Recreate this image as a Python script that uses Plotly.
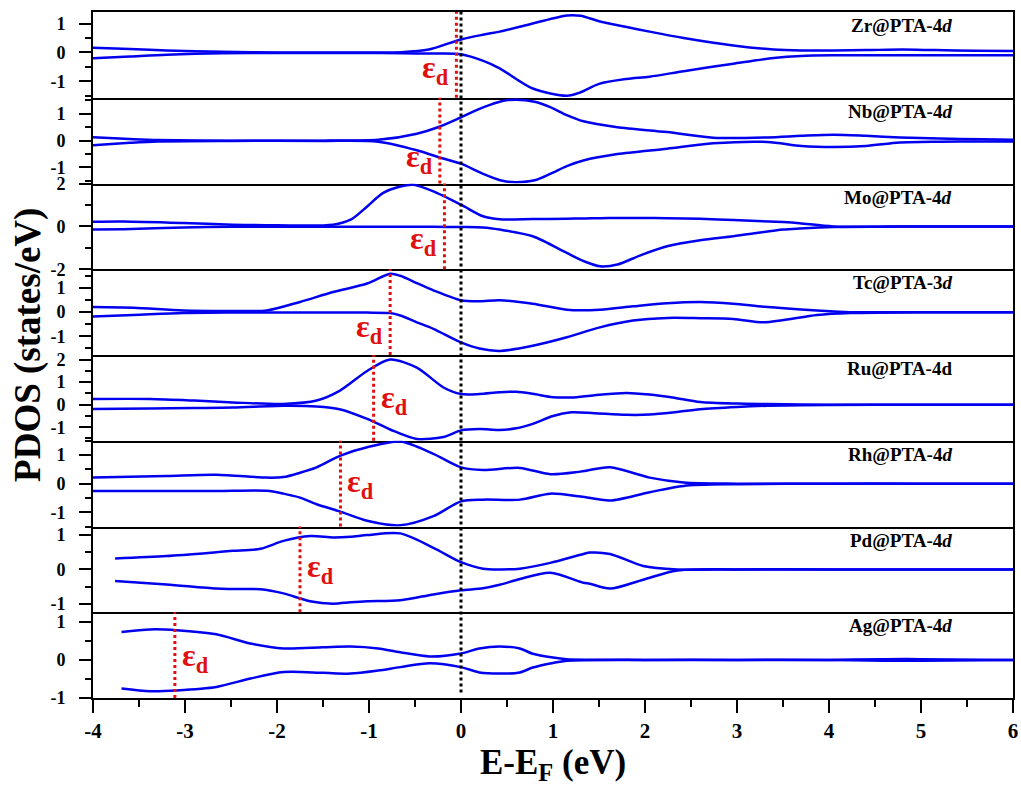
import plotly.graph_objects as go

# ---------------- data ----------------
labels = ["Zr@PTA-4<i>d</i>", "Nb@PTA-4<i>d</i>", "Mo@PTA-4<i>d</i>", "Tc@PTA-3<i>d</i>",
          "Ru@PTA-4d", "Rh@PTA-4<i>d</i>", "Pd@PTA-4<i>d</i>", "Ag@PTA-4<i>d</i>"]

# d-band centres (eV)
eps_d = [-0.05, -0.23, -0.18, -0.77, -0.95, -1.31, -1.75, -3.11]

zr_x = [-4, -3.6, -3.2, -2.6, -2.0, -1.0, -0.65, -0.35, 0.0, 0.25, 0.42, 0.78, 1.15, 1.3, 1.5, 1.8, 2.05, 2.42, 2.96, 3.4, 3.7, 4.05, 4.4, 4.8, 5.15, 5.6, 6.0]
zr_up = [0.16, 0.12, 0.07, 0.02, 0.0, 0.0, 0.01, 0.1, 0.45, 0.62, 0.72, 1.0, 1.28, 1.27, 1.08, 0.88, 0.72, 0.5, 0.24, 0.1, 0.07, 0.07, 0.08, 0.1, 0.08, 0.06, 0.05]
zr_dn = [-0.2, -0.14, -0.08, -0.03, -0.02, -0.02, -0.03, -0.04, -0.06, -0.3, -0.55, -1.25, -1.5, -1.38, -1.09, -0.92, -0.84, -0.65, -0.39, -0.19, -0.12, -0.1, -0.1, -0.1, -0.1, -0.1, -0.1]

nb_x = [-4, -3.6, -3.3, -2.5, -1.5, -0.9, -0.48, -0.25, 0, 0.24, 0.45, 0.6, 0.8, 0.97, 1.15, 1.33, 1.7, 2.24, 2.74, 3.33, 3.7, 4.05, 4.4, 4.77, 5.2, 5.67, 6.0]
nb_up = [0.13, 0.06, 0.02, 0.0, 0.0, 0.03, 0.26, 0.5, 0.87, 1.24, 1.48, 1.53, 1.45, 1.25, 0.95, 0.72, 0.5, 0.32, 0.11, 0.12, 0.18, 0.22, 0.18, 0.12, 0.08, 0.05, 0.03]
nb_dn = [-0.17, -0.08, -0.03, -0.01, -0.01, -0.04, -0.36, -0.61, -0.86, -1.24, -1.5, -1.55, -1.48, -1.24, -0.95, -0.74, -0.5, -0.3, -0.1, -0.05, -0.2, -0.24, -0.2, -0.07, -0.04, -0.03, -0.03]

mo_x = [-4, -3.67, -3.02, -2.48, -2.0, -1.39, -1.2, -1.02, -0.85, -0.66, -0.52, -0.3, 0, 0.24, 0.42, 0.78, 1.15, 1.35, 1.51, 1.7, 1.95, 2.24, 2.6, 2.96, 3.5, 3.68, 4.05, 5.0, 6.0]
mo_up = [0.22, 0.23, 0.16, 0.08, 0.05, 0.08, 0.31, 0.93, 1.55, 1.86, 1.94, 1.63, 1.01, 0.47, 0.33, 0.34, 0.36, 0.37, 0.38, 0.39, 0.39, 0.38, 0.35, 0.3, 0.2, 0.15, 0.0, 0.0, 0.0]
mo_dn = [-0.15, -0.13, -0.05, -0.02, -0.02, -0.02, -0.02, -0.02, -0.02, -0.02, -0.02, -0.02, -0.03, -0.05, -0.15, -0.46, -1.24, -1.65, -1.86, -1.78, -1.35, -0.93, -0.65, -0.46, -0.15, -0.1, -0.03, 0.0, 0.0]

tc_x = [-4, -3.56, -3.02, -2.5, -2.11, -1.75, -1.39, -1.02, -0.77, -0.66, -0.48, -0.3, 0, 0.2, 0.42, 0.78, 1.15, 1.51, 1.87, 2.24, 2.6, 2.96, 3.3, 3.87, 4.23, 5.0, 6.0]
tc_up = [0.21, 0.18, 0.07, 0.05, 0.07, 0.42, 0.83, 1.18, 1.58, 1.5, 1.2, 0.9, 0.49, 0.45, 0.49, 0.35, 0.1, 0.1, 0.24, 0.37, 0.42, 0.35, 0.22, 0.07, 0.0, 0.0, 0.0]
tc_dn = [-0.18, -0.12, -0.04, -0.02, -0.02, -0.02, -0.02, -0.02, -0.04, -0.14, -0.42, -0.69, -1.25, -1.5, -1.6, -1.39, -1.04, -0.63, -0.35, -0.24, -0.25, -0.28, -0.42, -0.12, -0.04, 0.0, 0.0]

ru_x = [-4, -3.38, -2.9, -2.48, -1.93, -1.57, -1.32, -1.02, -0.77, -0.48, -0.19, 0, 0.2, 0.42, 0.6, 0.78, 1.0, 1.2, 1.45, 1.8, 2.05, 2.3, 2.6, 3.0, 3.33, 4.0, 5.0, 6.0]
ru_up = [0.25, 0.25, 0.18, 0.1, 0.03, 0.18, 0.61, 1.49, 2.0, 1.64, 0.76, 0.47, 0.47, 0.55, 0.57, 0.48, 0.33, 0.32, 0.42, 0.52, 0.45, 0.32, 0.12, 0.05, 0.03, 0.0, 0.0, 0.0]
ru_dn = [-0.19, -0.17, -0.15, -0.13, -0.05, -0.08, -0.2, -0.63, -1.1, -1.52, -1.43, -1.14, -1.08, -1.12, -1.05, -0.85, -0.5, -0.34, -0.38, -0.45, -0.44, -0.35, -0.2, -0.1, -0.05, -0.02, 0.0, 0.0]

rh_x = [-4, -3.2, -2.66, -2.11, -1.93, -1.75, -1.57, -1.31, -1.02, -0.66, -0.3, 0, 0.24, 0.64, 0.97, 1.3, 1.62, 2.05, 2.42, 3.0, 4.0, 5.0, 6.0]
rh_up = [0.21, 0.27, 0.31, 0.21, 0.23, 0.38, 0.57, 0.98, 1.27, 1.47, 1.04, 0.57, 0.48, 0.55, 0.33, 0.42, 0.57, 0.21, 0.04, 0.0, 0.0, 0.0, 0.0]
rh_dn = [-0.26, -0.26, -0.26, -0.25, -0.35, -0.49, -0.72, -0.98, -1.3, -1.46, -1.14, -0.62, -0.56, -0.56, -0.35, -0.45, -0.59, -0.3, -0.08, -0.02, 0.0, 0.0, 0.0]

pd_x = [-3.76, -3.2, -2.66, -2.48, -2.18, -1.93, -1.64, -1.39, -1.2, -1.02, -0.66, -0.3, 0, 0.24, 0.42, 0.64, 0.97, 1.33, 1.4, 1.62, 1.98, 2.35, 3.0, 4.0, 5.0, 6.0]
pd_up = [0.32, 0.39, 0.5, 0.54, 0.6, 0.83, 0.97, 0.93, 0.95, 1.0, 1.05, 0.63, 0.21, 0.02, 0.0, 0.02, 0.19, 0.45, 0.49, 0.45, 0.1, 0.0, 0.0, 0.0, 0.0, 0.0]
pd_dn = [-0.34, -0.44, -0.56, -0.57, -0.58, -0.7, -0.93, -1.0, -0.96, -0.93, -0.9, -0.73, -0.61, -0.55, -0.45, -0.28, -0.1, -0.39, -0.42, -0.56, -0.3, -0.03, 0.0, 0.0, 0.0, 0.0]

ag_x = [-3.69, -3.38, -3.09, -2.66, -2.29, -1.93, -1.5, -1.2, -0.9, -0.66, -0.34, 0, 0.2, 0.42, 0.64, 0.78, 1.0, 1.15, 2.0, 3.0, 4.0, 4.6, 5.0, 6.0]
ag_up = [0.73, 0.8, 0.78, 0.67, 0.43, 0.3, 0.33, 0.35, 0.3, 0.2, 0.09, 0.17, 0.3, 0.35, 0.3, 0.16, 0.06, 0.02, 0.0, 0.0, 0.0, 0.02, 0.02, 0.0]
ag_dn = [-0.75, -0.82, -0.8, -0.71, -0.49, -0.32, -0.34, -0.36, -0.28, -0.19, -0.09, -0.19, -0.33, -0.36, -0.33, -0.2, -0.08, -0.02, 0.0, 0.0, 0.0, -0.02, -0.02, 0.0]

panel_x = [zr_x, nb_x, mo_x, tc_x, ru_x, rh_x, pd_x, ag_x]
panel_up = [zr_up, nb_up, mo_up, tc_up, ru_up, rh_up, pd_up, ag_up]
panel_dn = [zr_dn, nb_dn, mo_dn, tc_dn, ru_dn, rh_dn, pd_dn, ag_dn]

# axis ranges and ticks
y_ranges = [[-1.57, 1.4], [-1.6, 1.6], [-2, 2], [-1.77, 1.77], [-1.6, 2.2], [-1.5, 1.5], [-1.25, 1.25], [-1.0, 1.25]]
y_tickvals = [[-1, 0, 1], [-1, 0, 1], [-2, 0, 2], [-1, 0, 1], [-1, 0, 1, 2], [-1, 0, 1], [-1, 0, 1], [-1, 0, 1]]
y_minor_step = [0.5, 0.5, 1, 0.5, 0.5, 0.5, 0.5, 0.5]
x_tickvals = [-4, -3, -2, -1, 0, 1, 2, 3, 4, 5, 6]
x_ticktext = ["-4", "-3", "-2", "-1", "0", "1", "2", "3", "4", "5", "6"]

# ---------------- figure ----------------
FONT = "Liberation Serif"
BLUE = "#0000ee"
RED = "#e01010"
n = len(labels)

fig = go.Figure()
layout = dict(
    width=1021, height=788,
    margin=dict(l=93, r=8, t=12, b=90, autoexpand=False),
    paper_bgcolor="white", plot_bgcolor="white",
    showlegend=False,
    font=dict(family=FONT, color="black"),
)

eps_label_y = [0.33, 0.29, 0.33, 0.31, 0.48, 0.50, 0.51, 0.47]

shapes = []
annotations = []
for i in range(n):
    k = "" if i == 0 else str(i + 1)
    xa = "x" + k
    ya = "y" + k
    for ys in (panel_up[i], panel_dn[i]):
        fig.add_trace(go.Scatter(x=panel_x[i], y=ys, mode="lines", xaxis=xa, yaxis=ya,
                                 line=dict(color=BLUE, width=2.5, shape="spline", smoothing=0.8),
                                 hoverinfo="skip"))
    top = 1 - i / n
    bot = 1 - (i + 1) / n
    last = i == n - 1
    layout["xaxis" + k] = dict(
        domain=[0, 1], anchor=ya, range=[-4, 6], matches=None if i == 0 else "x",
        showline=True, mirror=(i == 0), linecolor="black", linewidth=2,
        showgrid=False, zeroline=False, automargin=False,
        tickmode="array", tickvals=x_tickvals, ticktext=x_ticktext,
        ticks="outside" if last else "", ticklen=13, tickwidth=2, tickcolor="black",
        showticklabels=last, ticklabelstandoff=0,
        tickfont=dict(family=FONT, size=21, color="black", weight="bold"),
        minor=dict(ticks="outside" if last else "", tickmode="linear", tick0=0, dtick=0.5,
                   ticklen=7, tickwidth=2, tickcolor="black"),
    )
    yv = y_tickvals[i]
    layout["yaxis" + k] = dict(
        domain=[bot, top], anchor=xa, range=y_ranges[i],
        showline=True, mirror=True, linecolor="black", linewidth=2,
        showgrid=False, zeroline=False, automargin=False,
        tickmode="array", tickvals=yv, ticktext=[str(v) for v in yv],
        ticks="outside", ticklen=12, tickwidth=2, tickcolor="black",
        ticklabelstandoff=10,
        tickfont=dict(family=FONT, size=18, color="black", weight="bold"),
        minor=dict(ticks="outside", tickmode="linear", tick0=0, dtick=y_minor_step[i],
                   ticklen=6, tickwidth=2, tickcolor="black"),
    )
    # d-band centre line
    shapes.append(dict(type="line", xref="x", yref=ya + " domain", x0=eps_d[i], x1=eps_d[i],
                       y0=0, y1=1, line=dict(color=RED, width=3, dash="dot")))
    # epsilon_d label
    right = i >= 4
    annotations.append(dict(text="<b>ε<sub>d</sub></b>", xref="x", yref=ya + " domain",
                            x=eps_d[i], y=eps_label_y[i], xanchor="left" if right else "right",
                            yanchor="middle", xshift=5 if right else -5, showarrow=False,
                            font=dict(family=FONT, size=32, color=RED)))
    # panel label
    annotations.append(dict(text="<b>" + labels[i] + "</b>", xref="paper", yref=ya + " domain",
                            x=0.936, y=0.84, xanchor="right", yanchor="middle", showarrow=False,
                            font=dict(family=FONT, size=19, color="black")))

# Fermi level
shapes.append(dict(type="line", xref="x", yref="paper", x0=0, x1=0, y0=0.008, y1=1,
                   line=dict(color="black", width=3, dash="dot")))

annotations.append(dict(text="<b>PDOS (states/eV)</b>", xref="paper", yref="paper",
                        x=-0.0707, y=0.5146, xanchor="center", yanchor="middle", textangle=-90,
                        showarrow=False, font=dict(family=FONT, size=37, color="black")))
annotations.append(dict(text="<b>E-E<sub>F</sub> (eV)</b>", xref="paper", yref="paper",
                        x=0.5, y=-0.062, xanchor="center", yanchor="top",
                        showarrow=False, font=dict(family=FONT, size=35, color="black")))

layout["shapes"] = shapes
layout["annotations"] = annotations
fig.update_layout(**layout)
fig.write_html("out.html", config={"displayModeBar": False},
               post_script="document.body.style.margin='0';document.documentElement.style.overflow='hidden';")
